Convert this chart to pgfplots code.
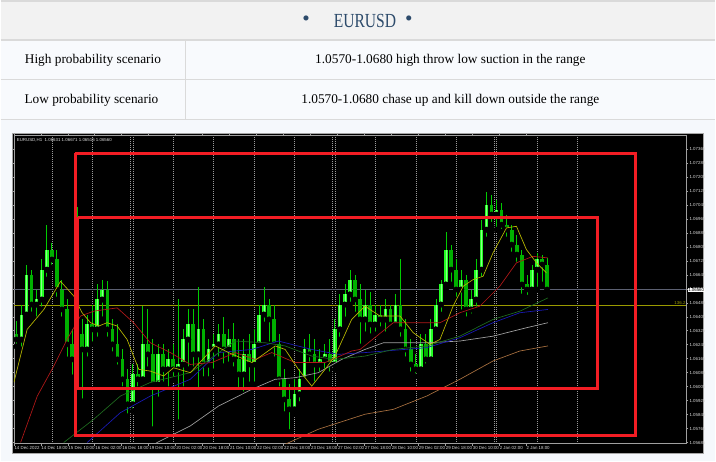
\documentclass[border=0pt]{standalone}
\usepackage{fontspec}
\setmainfont{Liberation Serif}
\newfontfamily\chartfont{Liberation Sans}
\usepackage{pgfplots}
\pgfplotsset{compat=1.18}
\usepackage{pgfplotstable}

\definecolor{pagebg}{HTML}{F5F8FC}
\definecolor{hdrbg}{HTML}{F2F2F2}
\definecolor{rowbg}{HTML}{F8FAFD}
\definecolor{rulec}{HTML}{DADADA}
\definecolor{hdrtext}{HTML}{2D4B6B}
\definecolor{bull}{HTML}{22FF22}
\definecolor{bullc}{HTML}{8CFF8C}
\definecolor{bear}{HTML}{00B000}
\definecolor{wick}{HTML}{00CC00}
\definecolor{maY}{HTML}{B8B800}
\definecolor{maR}{HTML}{B01818}
\definecolor{maG}{HTML}{1E6B1E}
\definecolor{maB}{HTML}{1A1AB8}
\definecolor{maGr}{HTML}{A0A0A0}
\definecolor{maBr}{HTML}{A8703F}
\definecolor{hline}{HTML}{5C6072}
\definecolor{oline}{HTML}{9A9A00}
\definecolor{boxred}{HTML}{F21D24}
\definecolor{ticktext}{HTML}{D8D8D8}
\definecolor{gridc}{HTML}{9A9A9A}

% hourly index (h), open, high, low, close  (3-hour candles)
\pgfplotstableread{
h o hi lo c
1.5 1.06304 1.06378 1.06235 1.06275
4.5 1.06275 1.06475 1.06218 1.06418
7.5 1.06418 1.06704 1.06390 1.06647
10.5 1.06647 1.06675 1.06418 1.06475
13.5 1.06475 1.06561 1.06390 1.06504
16.5 1.06504 1.06733 1.06447 1.06675
19.5 1.06675 1.06932 1.06618 1.06790
22.5 1.06790 1.06830 1.06687 1.06733
25.5 1.06733 1.06790 1.06504 1.06561
28.5 1.06561 1.06618 1.06390 1.06447
31.5 1.06447 1.06504 1.06161 1.06247
34.5 1.06247 1.06333 1.06058 1.06161
37.5 1.06161 1.07035 1.06104 1.06304
40.5 1.06304 1.06390 1.05921 1.06218
43.5 1.06218 1.06418 1.06161 1.06361
46.5 1.06361 1.06475 1.06247 1.06333
49.5 1.06333 1.06590 1.06275 1.06504
52.5 1.06504 1.06618 1.06390 1.06561
55.5 1.06561 1.06607 1.06275 1.06333
58.5 1.06333 1.06390 1.06190 1.06247
61.5 1.06247 1.06361 1.06115 1.06161
64.5 1.06161 1.06218 1.05990 1.06047
67.5 1.06047 1.06104 1.05835 1.05904
70.5 1.05904 1.06132 1.05864 1.06075
73.5 1.06075 1.06132 1.05990 1.06047
76.5 1.06047 1.06464 1.06018 1.06247
79.5 1.06247 1.06447 1.06104 1.06190
82.5 1.06190 1.06275 1.05761 1.06018
85.5 1.06018 1.06247 1.05932 1.06190
88.5 1.06190 1.06247 1.06018 1.06104
91.5 1.06104 1.06218 1.05990 1.06161
94.5 1.06161 1.06247 1.06047 1.06104
97.5 1.06104 1.06504 1.05801 1.06132
100.5 1.06132 1.06333 1.05990 1.06275
103.5 1.06275 1.06447 1.06104 1.06361
106.5 1.06361 1.06447 1.06104 1.06190
109.5 1.06190 1.06578 1.05972 1.06333
112.5 1.06333 1.06390 1.06047 1.06132
115.5 1.06132 1.06275 1.06047 1.06218
118.5 1.06218 1.06304 1.06092 1.06247
121.5 1.06247 1.06361 1.06161 1.06304
124.5 1.06304 1.06401 1.06121 1.06218
127.5 1.06218 1.06333 1.06132 1.06275
130.5 1.06275 1.06372 1.06104 1.06161
133.5 1.06161 1.06275 1.05972 1.06075
136.5 1.06075 1.06275 1.05961 1.06190
139.5 1.06190 1.06304 1.06018 1.06132
142.5 1.06132 1.06333 1.06018 1.06247
145.5 1.06247 1.06475 1.06218 1.06418
148.5 1.06418 1.06578 1.06361 1.06475
151.5 1.06475 1.06504 1.06247 1.06390
154.5 1.06390 1.06475 1.06161 1.06247
157.5 1.06247 1.06304 1.05990 1.06047
160.5 1.06047 1.06104 1.05847 1.05932
163.5 1.05932 1.06018 1.05744 1.05875
166.5 1.05875 1.06047 1.05847 1.05961
169.5 1.05961 1.06104 1.05904 1.06047
172.5 1.06047 1.06275 1.06018 1.06218
175.5 1.06218 1.06304 1.06132 1.06190
178.5 1.06190 1.06275 1.06018 1.06132
181.5 1.06132 1.06218 1.06075 1.06161
184.5 1.06161 1.06247 1.06092 1.06190
187.5 1.06190 1.06275 1.06075 1.06132
190.5 1.06132 1.06390 1.06104 1.06333
193.5 1.06333 1.06533 1.06275 1.06475
196.5 1.06475 1.06590 1.06390 1.06533
199.5 1.06533 1.06675 1.06475 1.06618
202.5 1.06618 1.06647 1.06418 1.06504
205.5 1.06504 1.06590 1.06235 1.06390
208.5 1.06390 1.06561 1.06304 1.06475
211.5 1.06475 1.06544 1.06293 1.06361
214.5 1.06361 1.06475 1.06304 1.06418
217.5 1.06418 1.06475 1.06333 1.06390
220.5 1.06390 1.06504 1.06304 1.06447
223.5 1.06447 1.06475 1.06333 1.06361
226.5 1.06361 1.06533 1.06333 1.06475
229.5 1.06475 1.06733 1.06275 1.06333
232.5 1.06333 1.06390 1.06161 1.06218
235.5 1.06218 1.06275 1.06075 1.06132
238.5 1.06132 1.06190 1.06064 1.06104
241.5 1.06104 1.06304 1.06092 1.06247
244.5 1.06247 1.06304 1.06121 1.06161
247.5 1.06161 1.06390 1.06132 1.06333
250.5 1.06333 1.06504 1.06304 1.06475
253.5 1.06475 1.06618 1.06418 1.06590
256.5 1.06590 1.06892 1.06561 1.06790
259.5 1.06790 1.06818 1.06590 1.06675
262.5 1.06675 1.06733 1.06504 1.06561
265.5 1.06561 1.06675 1.06430 1.06618
268.5 1.06618 1.06647 1.06390 1.06447
271.5 1.06447 1.06561 1.06407 1.06504
274.5 1.06504 1.06733 1.06447 1.06675
277.5 1.06675 1.06961 1.06618 1.06904
280.5 1.06904 1.07121 1.06847 1.07047
283.5 1.07047 1.07104 1.06932 1.06990
286.5 1.06990 1.07075 1.06904 1.07018
289.5 1.07018 1.07058 1.06892 1.06932
292.5 1.06932 1.06990 1.06847 1.06904
295.5 1.06904 1.06932 1.06761 1.06818
298.5 1.06818 1.06875 1.06704 1.06761
301.5 1.06761 1.06790 1.06521 1.06590
304.5 1.06590 1.06647 1.06515 1.06561
307.5 1.06561 1.06704 1.06533 1.06675
310.5 1.06675 1.06772 1.06561 1.06733
313.5 1.06733 1.06761 1.06590 1.06704
316.5 1.06704 1.06744 1.06533 1.06561
}\candles

\pgfplotstableread{
h v
0 1.06029
7.9 1.06333
17.8 1.06447
27.7 1.06608
35.6 1.06523
40.5 1.06428
45.5 1.06371
50.4 1.06352
55.3 1.06371
61.3 1.06352
67.2 1.06275
74.1 1.06104
81.0 1.06094
88.9 1.06066
94.8 1.06113
104.7 1.06085
119.5 1.06238
127.4 1.06200
141.3 1.06143
155.1 1.06238
161.0 1.06218
168.9 1.06104
176.8 1.06008
184.7 1.06104
190.6 1.06180
200.5 1.06390
208.4 1.06466
217.3 1.06409
229.2 1.06409
237.0 1.06314
246.9 1.06247
252.9 1.06275
260.7 1.06466
266.7 1.06580
272.6 1.06618
278.5 1.06637
284.4 1.06771
292.4 1.06914
298.3 1.06923
304.2 1.06790
310.2 1.06714
316.1 1.06656
}\maYellow

\pgfplotstableread{
h v
4.0 1.05685
13.9 1.05951
23.7 1.06123
31.6 1.06275
39.5 1.06409
47.4 1.06437
61.3 1.06456
71.1 1.06371
81.0 1.06256
92.9 1.06200
104.7 1.06132
117.6 1.06143
131.4 1.06200
143.2 1.06161
153.1 1.06200
166.9 1.06143
184.7 1.06143
200.5 1.06209
205.5 1.06218
225.2 1.06371
241.0 1.06371
252.9 1.06371
264.7 1.06428
276.6 1.06466
288.4 1.06580
298.3 1.06714
308.1 1.06751
317.0 1.06742
}\maRed

\pgfplotstableread{
h v
29.6 1.05685
47.4 1.05818
63.2 1.05951
81.0 1.06029
104.7 1.06085
131.4 1.06266
149.2 1.06256
161.0 1.06238
176.8 1.06180
190.6 1.06161
208.4 1.06180
225.2 1.06218
245.0 1.06238
264.7 1.06294
284.4 1.06390
300.3 1.06437
317.0 1.06513
}\maGreen

\pgfplotstableread{
h v
43.5 1.05685
63.2 1.05856
81.0 1.05951
104.7 1.06047
121.5 1.06200
141.3 1.06218
157.0 1.06266
176.8 1.06218
192.6 1.06190
208.4 1.06200
245.0 1.06228
264.7 1.06285
284.4 1.06371
300.3 1.06428
317.0 1.06447
}\maBlue

\pgfplotstableread{
h v
83.0 1.05675
104.7 1.05780
121.5 1.05894
141.3 1.05990
155.1 1.06047
166.9 1.06056
180.7 1.06085
194.6 1.06161
208.4 1.06218
219.3 1.06256
245.0 1.06256
264.7 1.06266
284.4 1.06294
304.2 1.06342
317.0 1.06371
}\maGray

\pgfplotstableread{
h v
161.0 1.05675
180.7 1.05761
208.4 1.05847
225.2 1.05875
245.0 1.05951
264.7 1.06047
284.4 1.06152
300.3 1.06209
317.0 1.06238
}\maBrown

\begin{document}
\begin{tikzpicture}
% ---------- table part (pixel grid, y downwards) ----------
\begin{scope}[x=0.75pt,y=-0.75pt]
  \fill[pagebg] (0,0) rectangle (716,462);
  \fill[hdrbg] (0,0) rectangle (716,40);
  \fill[rowbg] (0,40) rectangle (716,120);
  \draw[rulec, line width=0.9pt] (0,1) -- (716,1);
  \draw[rulec, line width=0.9pt] (0,40) -- (716,40);
  \draw[rulec, line width=0.9pt] (0,80) -- (716,80);
  \draw[rulec, line width=0.9pt] (0,120) -- (716,120);
  \draw[rulec, line width=0.9pt] (185,40) -- (185,120);
  \node[text=hdrtext, inner sep=0pt] at (306,21) {\fontsize{16}{18}\selectfont •};
  \node[text=hdrtext, inner sep=0pt] at (365,21) {\fontsize{15}{17}\selectfont\scalebox{0.78}[1]{EURUSD}};
  \node[text=hdrtext, inner sep=0pt] at (409,21) {\fontsize{16}{18}\selectfont •};
  \node[inner sep=0pt] at (92.5,60) {\fontsize{10}{12}\selectfont High probability scenario};
  \node[inner sep=0pt] at (450.5,60) {\fontsize{10}{12}\selectfont 1.0570-1.0680 high throw low suction in the range};
  \node[inner sep=0pt] at (91,100) {\fontsize{10}{12}\selectfont Low probability scenario};
  \node[inner sep=0pt] at (450.5,100) {\fontsize{10}{12}\selectfont 1.0570-1.0680 chase up and kill down outside the range};
  \fill[black] (12,134) rectangle (704,454);
  \draw[gray!70, line width=0.6pt] (12,134) rectangle (704,454);
\end{scope}

% ---------- chart ----------
\begin{axis}[
  at={(9.975pt,-333.225pt)}, anchor=south west,
  scale only axis, width=505.275pt, height=231.45pt,
  xmin=0, xmax=399.2, ymin=1.05679, ymax=1.07443,
  axis background/.style={fill=black},
  axis line style={draw=gray!75, line width=0.5pt},
  clip mode=individual,
  tick align=outside, major tick length=1.5pt,
  tick style={gray!75, line width=0.4pt},
  ticklabel style={font=\chartfont\fontsize{3.3}{4}\selectfont, text=ticktext},
  xtick={0,16,...,304},
  xticklabels={14 Dec 2022,14 Dec 18:00,15 Dec 10:00,16 Dec 02:00,16 Dec 18:00,19 Dec 10:00,20 Dec 02:00,20 Dec 18:00,21 Dec 10:00,22 Dec 02:00,22 Dec 18:00,23 Dec 18:00,27 Dec 02:00,27 Dec 18:00,28 Dec 10:00,29 Dec 02:00,29 Dec 18:00,30 Dec 10:00,2 Jan 02:00,2 Jan 18:00},
  xticklabel style={anchor=north west, inner sep=0pt, xshift=0.3pt, yshift=-0.6pt},
  ytick={1.05685,1.05765,1.05845,1.05925,1.06005,1.06085,1.06165,1.06245,1.06325,1.06405,1.06485,1.06565,1.06645,1.06725,1.06805,1.06885,1.06965,1.07045,1.07125,1.07205,1.07285,1.07365},
  yticklabels={1.05685,1.05765,1.05845,1.05925,1.06005,1.06085,1.06165,1.06245,1.06325,1.06405,1.06485,1.06565,1.06645,1.06725,1.06805,1.06885,1.06965,1.07045,1.07125,1.07205,1.07285,1.07365},
  yticklabel pos=right,
  yticklabel style={anchor=west, inner sep=0pt, xshift=0.6pt},
  extra x ticks={22.8,46.8,69.2,70.6,94.8,118.6,142.6,166.6,189.2,190.6,214.6,238.6,262.6,285.2,286.6,310.6,334.6},
  extra x tick labels={},
  extra x tick style={grid=major, major tick length=0pt,
     major grid style={gridc, dash pattern=on 0.75pt off 0.75pt, line width=0.4pt}},
]
% horizontal price lines
\addplot[hline, line width=0.5pt, forget plot] coordinates {(0,1.06560) (399.2,1.06560)};
\addplot[oline, line width=0.5pt, forget plot] coordinates {(0,1.06470) (399.2,1.06470)};
% wicks
\addplot[only marks, mark=none, forget plot,
  error bars/.cd, y dir=plus, y explicit, error mark=none,
  error bar style={line width=0.6pt, color=wick}]
  table[x=h, y=lo, y error plus expr=\thisrow{hi}-\thisrow{lo}] {\candles};
% bear bodies
\addplot[only marks, mark=none, forget plot,
  restrict expr to domain={\thisrow{c}-\thisrow{o}}{-1:0},
  error bars/.cd, y dir=plus, y explicit, error mark=none,
  error bar style={line width=2.8pt, color=bear}]
  table[x=h, y=c, y error plus expr=\thisrow{o}-\thisrow{c}] {\candles};
% bull bodies
\addplot[only marks, mark=none, forget plot,
  restrict expr to domain={\thisrow{c}-\thisrow{o}}{0:1},
  error bars/.cd, y dir=plus, y explicit, error mark=none,
  error bar style={line width=2.8pt, color=bull}]
  table[x=h, y=o, y error plus expr=\thisrow{c}-\thisrow{o}] {\candles};
\addplot[only marks, mark=none, forget plot,
  restrict expr to domain={\thisrow{c}-\thisrow{o}}{0:1},
  error bars/.cd, y dir=plus, y explicit, error mark=none,
  error bar style={line width=0.6pt, color=bullc}]
  table[x=h, y=o, y error plus expr=\thisrow{c}-\thisrow{o}] {\candles};
% moving averages
\addplot[maBr, line width=0.5pt, mark=none] table[x=h, y=v] {\maBrown};
\addplot[maGr, line width=0.5pt, mark=none] table[x=h, y=v] {\maGray};
\addplot[maB, line width=0.5pt, mark=none] table[x=h, y=v] {\maBlue};
\addplot[maG, line width=0.5pt, mark=none] table[x=h, y=v] {\maGreen};
\addplot[maR, line width=0.5pt, mark=none] table[x=h, y=v] {\maRed};
\addplot[maY, line width=0.5pt, mark=none] table[x=h, y=v] {\maYellow};
% range boxes
\addplot[boxred, line width=2pt, line join=miter, mark=none] coordinates {(36.4,1.07340) (369.0,1.07340) (369.0,1.05727) (36.4,1.05727) (36.4,1.07340)};
\addplot[boxred, line width=2pt, line join=miter, mark=none] coordinates {(37.9,1.06974) (346.5,1.06974) (346.5,1.05995) (37.9,1.05995) (37.9,1.06974)};
\node[anchor=north west, inner sep=0.5pt, text=ticktext, font=\chartfont\fontsize{3.3}{4}\selectfont] at (rel axis cs:0.003,0.995) {EURUSD,H1\ \ 1.06631 1.06671 1.06516 1.06560};
\node[anchor=south east, inner sep=0.3pt, text=oline, font=\chartfont\fontsize{3.3}{4}\selectfont] at (axis cs:399,1.06470) {136.2};
\end{axis}

\begin{scope}[x=0.75pt,y=-0.75pt]
  \node[fill=white, text=black, inner sep=0.4pt, anchor=west, font=\chartfont\fontsize{3.3}{4}\selectfont] at (688,290.3) {1.06560};
\end{scope}
\end{tikzpicture}
\end{document}
